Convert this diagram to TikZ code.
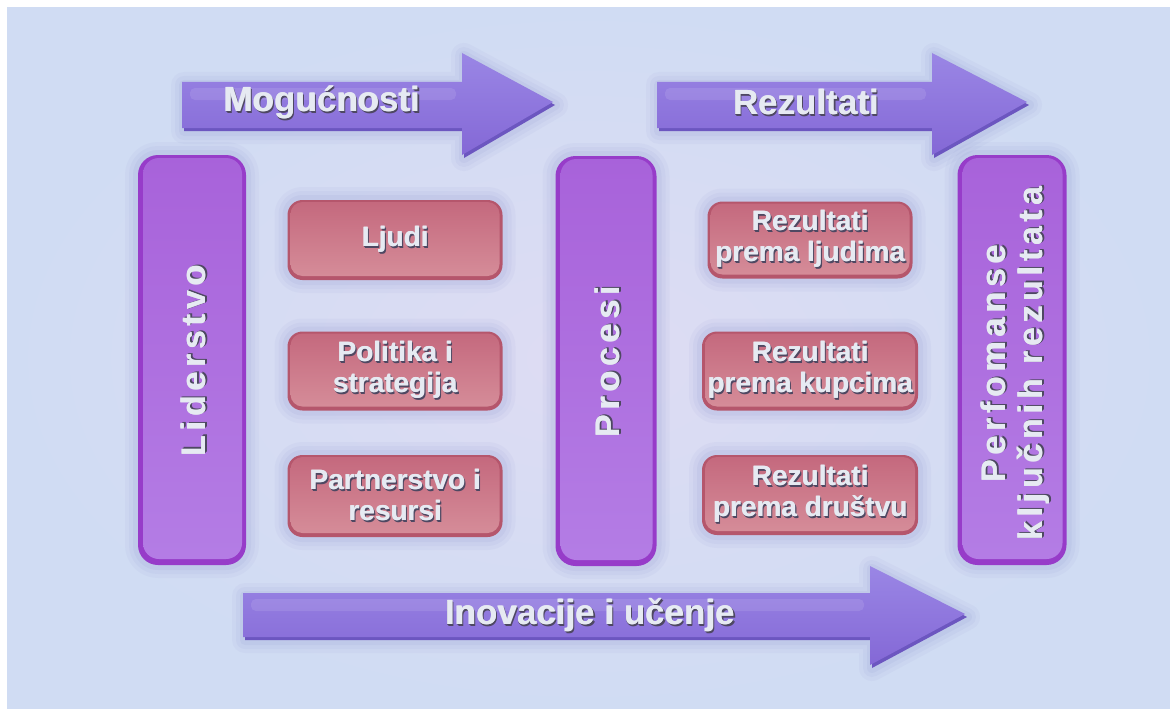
\documentclass[tikz,border=0pt]{standalone}
\usepackage{fontspec}
\setmainfont{Liberation Sans}
\newfontfamily\pillfont{Liberation Sans}[LetterSpace=14]

% palette
\definecolor{bgOut}{HTML}{D0DCF3}
\definecolor{bgIn}{HTML}{DEDCF3}
\definecolor{arrTop}{HTML}{9A86E5}
\definecolor{arrMid}{HTML}{9E8CE8}
\definecolor{arrBot}{HTML}{8468D6}
\definecolor{arrEdge}{HTML}{6C56C0}
\definecolor{pillEdge}{HTML}{973CC9}
\definecolor{pillTop}{HTML}{A862DA}
\definecolor{pillBot}{HTML}{B47DE5}
\definecolor{redEdge}{HTML}{B5566C}
\definecolor{redTop}{HTML}{C4687D}
\definecolor{redBot}{HTML}{D68E9A}
\definecolor{glow}{HTML}{7F86C8}
\definecolor{txtFace}{HTML}{E6EAF2}
\definecolor{txtShadow}{HTML}{4E4862}

% embossed label: dark offset copies under a doubled light face
\newcommand\emb[1]{\leavevmode
  \rlap{\kern1.6pt\raisebox{-1.8pt}{\textcolor{txtShadow}{#1}}}%
  \rlap{\kern0.9pt\raisebox{-1.0pt}{\textcolor{txtShadow}{#1}}}%
  \rlap{\kern0.5pt\textcolor{txtFace}{#1}}%
  \textcolor{txtFace}{#1}}

\tikzset{
  softshadow/.style={
      preaction={draw=glow, line width=26pt, draw opacity=0.06, line join=round},
      preaction={draw=glow, line width=18pt, draw opacity=0.07, line join=round},
      preaction={draw=glow, line width=10pt, draw opacity=0.09, line join=round}},
  pillbox/.style={rounded corners=20pt, fill=pillEdge, inner sep=0pt,
      minimum height=410pt, softshadow,
      path picture={\shade[rounded corners=16pt, top color=pillTop, bottom color=pillBot]
        ([shift={(5pt,-3pt)}]path picture bounding box.north west) rectangle
        ([shift={(-4pt,6pt)}]path picture bounding box.south east);}},
  redbox/.style={rounded corners=15pt, fill=redEdge, inner sep=0pt, align=center,
      font=\fontsize{28}{31}\selectfont\bfseries, softshadow,
      path picture={\shade[rounded corners=12pt, top color=redTop, bottom color=redBot]
        ([shift={(3pt,-2pt)}]path picture bounding box.north west) rectangle
        ([shift={(-3pt,4pt)}]path picture bounding box.south east);}},
  arrowbody/.style={top color=arrTop, middle color=arrMid, bottom color=arrBot},
  arrowedge/.style={fill=arrEdge, softshadow},
  arrowgloss/.style={fill=white, opacity=0.1, rounded corners=5pt},
  arrowtext/.style={font=\fontsize{35}{40}\selectfont\bfseries, inner sep=0pt},
  pilltext/.style={rotate=90, align=center, inner sep=0pt,
      font=\fontsize{34}{37}\selectfont\pillfont\bfseries},
}

\begin{document}
\begin{tikzpicture}[x=1pt, y=-1pt]
  % page and backdrop
  \fill[white] (0,0) rectangle (1170,709);
  \shade[inner color=bgIn, outer color=bgOut] (7,8) rectangle (1170,709);
  \useasboundingbox (0,0) rectangle (1170,709);

  % upper left block arrow
  \fill[arrowedge] (184,85) -- (464,85) -- (464,56) -- (555,105) -- (464,158) -- (464,131) -- (184,131) -- cycle;
  \shade[arrowbody] (182,82) -- (462,82) -- (462,53) -- (553,102) -- (462,155) -- (462,128) -- (182,128) -- cycle;
  \fill[arrowgloss] (190,88) rectangle (456,100);
  \node[arrowtext] (mog) at (322,103) {\emb{Mogućnosti}};

  % upper right block arrow
  \fill[arrowedge] (659,85) -- (934,85) -- (934,56) -- (1029,105) -- (934,158) -- (934,131) -- (659,131) -- cycle;
  \shade[arrowbody] (657,82) -- (932,82) -- (932,53) -- (1027,102) -- (932,155) -- (932,128) -- (657,128) -- cycle;
  \fill[arrowgloss] (665,88) rectangle (926,100);
  \node[arrowtext] (rez) at (806,103) {\emb{Rezultati}};

  % bottom block arrow
  \fill[arrowedge] (245,596) -- (872,596) -- (872,569) -- (967,617) -- (872,668) -- (872,640) -- (245,640) -- cycle;
  \shade[arrowbody] (243,593) -- (870,593) -- (870,566) -- (965,614) -- (870,665) -- (870,637) -- (243,637) -- cycle;
  \fill[arrowgloss] (251,599) rectangle (864,611);
  \node[arrowtext] (ino) at (590,616) {\emb{Inovacije i učenje}};

  % vertical columns
  \node[pillbox, minimum width=108pt] (lid) at (192,360) {};
  \node[pilltext] (lidtxt) at (194,361) {\emb{Liderstvo}};

  \node[pillbox, minimum width=101pt] (pro) at (606,361) {};
  \node[pilltext] (protxt) at (608,362) {\emb{Procesi}};

  \node[pillbox, minimum width=109pt] (per) at (1012,360) {};
  \node[pilltext] (pertxt) at (1016,364) {\emb{Perfomanse}\\\emb{ključnih rezultata}};

  % enablers
  \node[redbox, minimum width=215pt, minimum height=80pt] (ljudi) at (395,240) {\emb{Ljudi}};
  \node[redbox, minimum width=215pt, minimum height=79pt] (pol) at (395,371) {\emb{Politika i}\\\emb{strategija}};
  \node[redbox, minimum width=215pt, minimum height=82pt] (par) at (395,496) {\emb{Partnerstvo i}\\\emb{resursi}};

  % results
  \node[redbox, minimum width=205pt, minimum height=77pt] (rlj) at (810,240) {\emb{Rezultati}\\\emb{prema ljudima}};
  \node[redbox, minimum width=216pt, minimum height=79pt] (rku) at (810,371) {\emb{Rezultati}\\\emb{prema kupcima}};
  \node[redbox, minimum width=216pt, minimum height=80pt] (rdr) at (810,495) {\emb{Rezultati}\\\emb{prema društvu}};
\end{tikzpicture}
\end{document}
